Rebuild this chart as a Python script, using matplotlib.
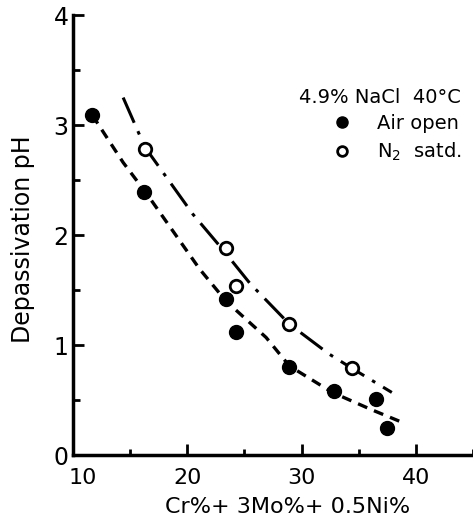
import matplotlib.pyplot as plt
import matplotlib.transforms as mtransforms
from matplotlib.lines import Line2D
from matplotlib.ticker import MultipleLocator

# depassivation pH vs. pitting index, 4.9% NaCl at 40 C
air_x = [11.7, 16.2, 23.4, 24.3, 28.95, 32.8, 36.5, 37.5]
air_y = [3.09, 2.39, 1.42, 1.12, 0.80, 0.58, 0.51, 0.25]
n2_x = [16.3, 23.4, 24.3, 28.95, 34.4]
n2_y = [2.78, 1.88, 1.54, 1.19, 0.79]

# hand-drawn trend curves
air_fit_x = [11.7, 14.4, 16.5, 21.1, 23.4, 26.9, 28.95, 32.7, 36.2, 39.0]
air_fit_y = [3.09, 2.66, 2.37, 1.69, 1.40, 1.07, 0.81, 0.57, 0.41, 0.29]
n2_fit_x = [14.4, 16.3, 20.5, 23.1, 25.5, 28.95, 32.4, 34.4, 37.9]
n2_fit_y = [3.25, 2.80, 2.19, 1.87, 1.56, 1.19, 0.92, 0.79, 0.57]

plt.rcParams['font.family'] = 'DejaVu Sans'

fig = plt.figure(figsize=(4.73, 5.19), dpi=100)
ax = fig.add_axes([0.154, 0.123, 0.846, 0.848])

ax.plot(air_fit_x, air_fit_y, color='black', lw=2.4, dashes=(3, 2.2))
ax.plot(n2_fit_x, n2_fit_y, color='black', lw=2.2, dashes=(9, 3, 1.2, 3))

ax.plot(air_x, air_y, 'o', color='black', ms=10, zorder=3)
ax.plot(n2_x, n2_y, 'o', mfc='white', mec='black', mew=2, ms=9, zorder=3)

ax.set_xlim(10, 45)
ax.set_ylim(0, 4)
ax.xaxis.set_major_locator(MultipleLocator(10))
ax.xaxis.set_minor_locator(MultipleLocator(5))
ax.yaxis.set_major_locator(MultipleLocator(1))
ax.yaxis.set_minor_locator(MultipleLocator(0.5))
ax.set_xticks([10, 20, 30, 40])
ax.tick_params(which='both', direction='in', width=2, labelsize=17)
ax.tick_params(which='major', length=8)
ax.tick_params(which='minor', length=5)
ax.tick_params(axis='x', which='minor', length=4)
ax.tick_params(axis='x', pad=9, labelsize=16)
ax.tick_params(axis='y', pad=3)

for side in ['top', 'right']:
    ax.spines[side].set_visible(False)
for side in ['left', 'bottom']:
    ax.spines[side].set_linewidth(2.5)

# "10" sits a little right of the corner so it clears the "0"
first = ax.xaxis.get_major_ticks()[0].label1
first.set_transform(first.get_transform()
                    + mtransforms.ScaledTranslation(7 / 72, 0, fig.dpi_scale_trans))

ax.set_xlabel('Cr%+ 3Mo%+ 0.5Ni%', fontsize=16)
ax.xaxis.set_label_coords(0.537, -0.095)
ax.set_ylabel('Depassivation pH', fontsize=17)
ax.yaxis.set_label_coords(-0.095, 0.49)

handles = [
    Line2D([0], [0], marker='o', ls='none', color='black', ms=8, label='Air open'),
    Line2D([0], [0], marker='o', ls='none', mfc='white', mec='black', mew=2, ms=7,
           label='N$_2$  satd.'),
]
leg = ax.legend(handles=handles, title='4.9% NaCl  40°C', loc='upper right',
                bbox_to_anchor=(0.99, 0.853), frameon=False, fontsize=14,
                title_fontsize=14, handletextpad=0.8, labelspacing=0.4,
                borderaxespad=0.0)
leg._legend_box.align = 'right'

fig.savefig('out.png', dpi=100)
